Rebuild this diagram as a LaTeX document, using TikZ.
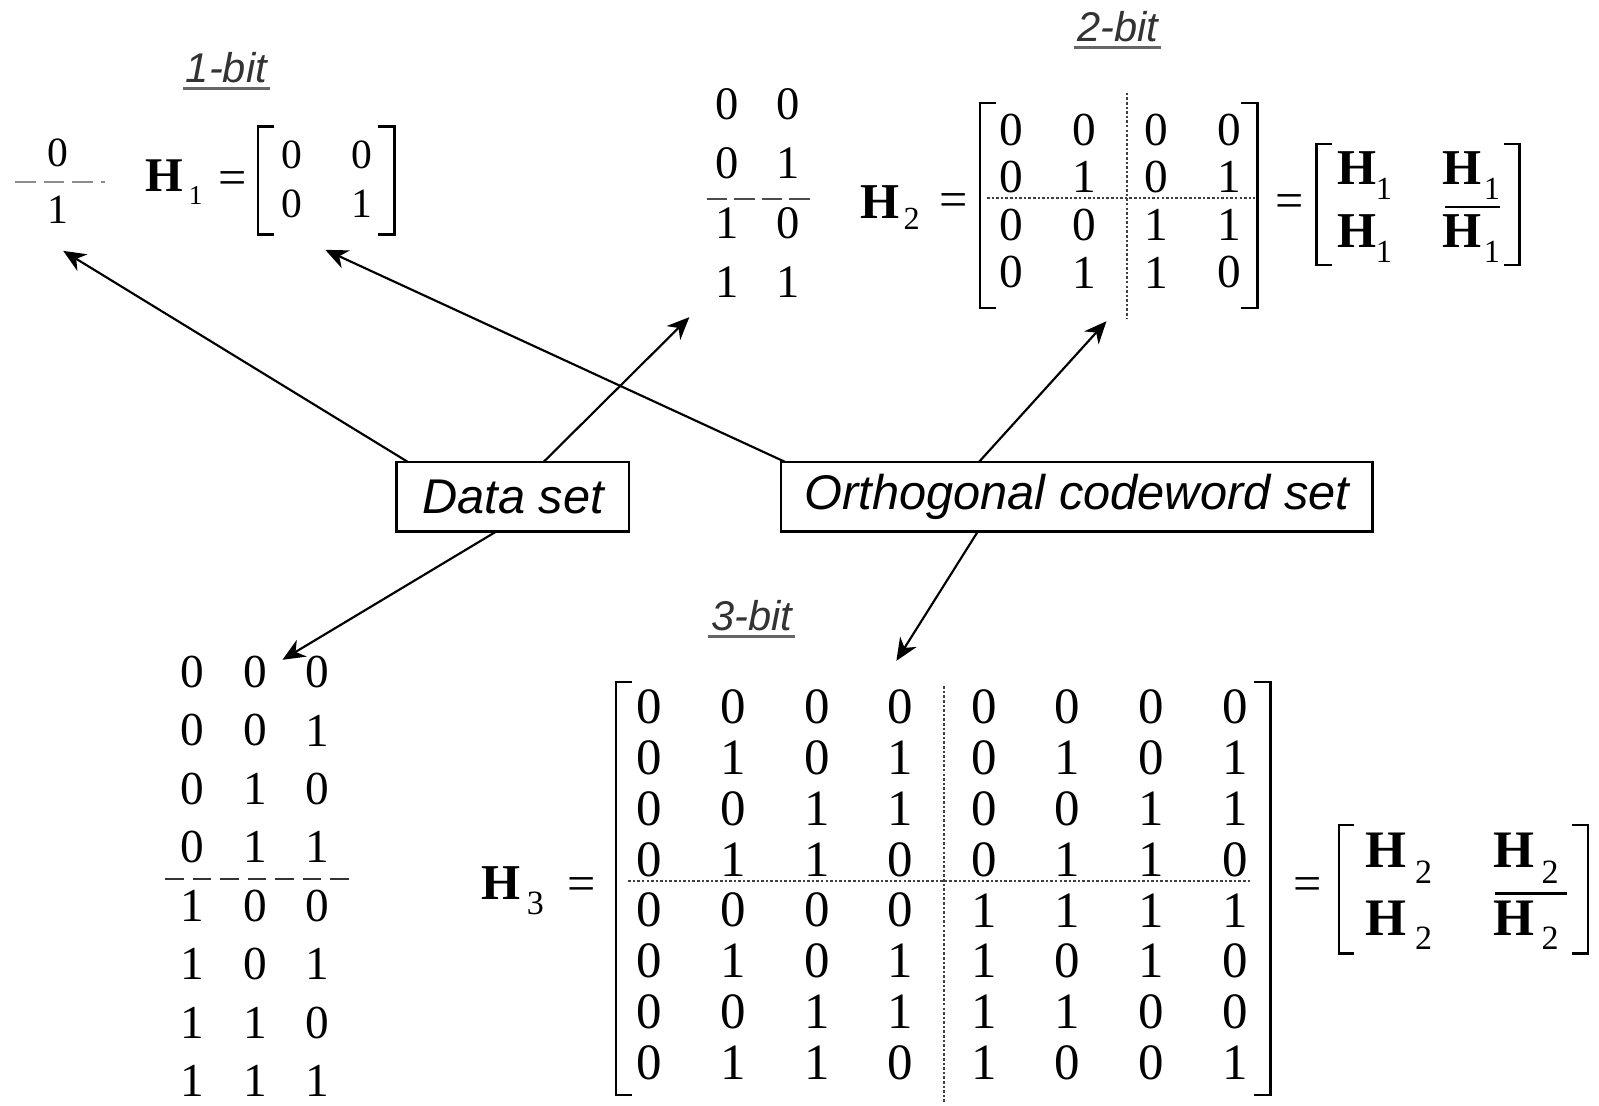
\documentclass[tikz,border=0pt]{standalone}
\usepackage{fontspec}
\setmainfont{Liberation Serif}
\newfontfamily\labelfont{Liberation Sans}
\usetikzlibrary{arrows.meta}

\tikzset{
  every node/.style={inner sep=0pt, outer sep=0pt},
  digs/.style={font=\fontsize{11.6}{12}\selectfont},
  digm/.style={font=\fontsize{13}{14}\selectfont},
  digl/.style={font=\fontsize{13.2}{14}\selectfont},
  digx/.style={font=\fontsize{14.2}{15}\selectfont},
  hboldS/.style={font=\bfseries\fontsize{13.5}{14}\selectfont},
  hboldM/.style={font=\bfseries\fontsize{14}{15}\selectfont},
  hboldL/.style={font=\bfseries\fontsize{14.7}{15}\selectfont},
  hsubS/.style={font=\fontsize{7.6}{8}\selectfont},
  hsubM/.style={font=\fontsize{9}{10}\selectfont},
  hsubL/.style={font=\fontsize{9.5}{10}\selectfont},
  eqsign/.style={font=\fontsize{14}{15}\selectfont},
  brk/.style={line width=0.7pt},
  halfsep/.style={line width=0.6pt, dash pattern=on 2mm off 0.8mm},
  blockdiv/.style={line width=0.55pt, black!75, dash pattern=on 0.25mm off 0.2mm},
  setbox/.style={draw, line width=0.7pt, minimum height=6.8mm,
    font=\labelfont\itshape\fontsize{13.6}{16}\selectfont},
  bitlabel/.style={anchor=base, text=black!80,
    font=\labelfont\itshape\fontsize{11.6}{14}\selectfont},
  uline/.style={line width=0.8pt, black!60},
  feed/.style={line width=0.6pt, -{Stealth[length=2.2mm,width=1.9mm,inset=0.7mm]}},
  compl/.style={line width=0.7pt}
}

% square brackets: left x, right x, top y, bottom y, serif length
\newcommand\mbrackets[5]{%
  \draw[brk] (#1+#5,#3) -- (#1,#3) -- (#1,#4) -- (#1+#5,#4);
  \draw[brk] (#2-#5,#3) -- (#2,#3) -- (#2,#4) -- (#2-#5,#4);
}

\begin{document}
\begin{tikzpicture}[x=0.1mm,y=-0.1mm]
\fill[white] (0,0) rectangle (1568,1084);
\useasboundingbox (0,0) rectangle (1568,1084);

% ================= 1-bit =================
\node[bitlabel] (lab1) at (222,81) {1-bit};
\draw[uline] ([xshift=-0.3mm,yshift=-0.6mm]lab1.base west) -- ([xshift=0.3mm,yshift=-0.6mm]lab1.base east);

\node[digs] (da1-1) at (57,150) {0};
\node[digs] (da1-2) at (57,206) {1};
\draw[halfsep, black!45] (15,178.5) -- (103,178.5);

\node[hboldS] (h1) at (161,172) {H};
\node[hsubS] (h1s) at (192,192) {1};
\node[eqsign] (h1eq) at (228,179) {=};
\mbrackets{253}{387}{124}{230}{16}
\foreach \r [count=\i] in {{0,0},{0,1}}
  \foreach \v [count=\j] in \r
    \node[digs] (ha-\i-\j) at ({286+69*(\j-1)},{152+48*(\i-1)}) {\v};

% ================= 2-bit =================
\node[bitlabel] (lab2) at (1096,41) {2-bit};
\draw[uline] ([xshift=-0.3mm,yshift=-0.6mm]lab2.base west) -- ([xshift=0.3mm,yshift=-0.6mm]lab2.base east);

\foreach \r [count=\i] in {{0,0},{0,1},{1,0},{1,1}}
  \foreach \v [count=\j] in \r
    \node[digm] (db-\i-\j) at ({713+60*(\j-1)},{102+58.3*(\i-1)}) {\v};
\draw[halfsep, black!70, dash pattern=on 2mm off 0.7mm] (693,195) -- (795,195);

\node[hboldM] (h2) at (863,198) {H};
\node[hsubM] (h2s) at (894,215) {2};
\node[eqsign] (h2eq) at (935,201) {=};
\mbrackets{961}{1233}{101}{302}{16}
\foreach \r [count=\i] in {{0,0,0,0},{0,1,0,1},{0,0,1,1},{0,1,1,0}}
  \foreach \v [count=\j] in \r
    \node[digl] (hb-\i-\j) at ({992+71*(\j-1)},{127+46.7*(\i-1)}) {\v};
\draw[blockdiv] (1105,91) -- (1105,312);
\draw[blockdiv] (968,194) -- (1231,194);

% H2 as blocks of H1
\node[eqsign] (h2eqb) at (1264.5,202) {=};
\mbrackets{1291}{1490}{141}{260}{15}
\node[hboldM] (hb11) at (1331,165) {H};
\node[hsubM] (hb11s) at (1357,185) {1};
\node[hboldM] (hb21) at (1331,227) {H};
\node[hsubM] (hb21s) at (1357,247) {1};
\node[hboldM] (hb12) at (1434,165) {H};
\node[hsubM] (hb12s) at (1463,185) {1};
\node[hboldM] (hb22) at (1434,227) {H};
\node[hsubM] (hb22s) at (1463,247) {1};
\draw[compl] (1417,203) -- (1471,203);

% ================= sets =================
\node[setbox, minimum width=22.8mm] (ds) at (503,487) {Data set};
\node[setbox, minimum width=58mm] (ocs) at (1056,487) {Orthogonal codeword set};

% ================= 3-bit =================
\node[bitlabel] (lab3) at (737,618) {3-bit};
\draw[uline] ([xshift=-0.3mm,yshift=-0.6mm]lab3.base west) -- ([xshift=0.3mm,yshift=-0.6mm]lab3.base east);

\foreach \r [count=\i] in {{0,0,0},{0,0,1},{0,1,0},{0,1,1},{1,0,0},{1,0,1},{1,1,0},{1,1,1}}
  \foreach \v [count=\j] in \r
    \node[digl] (dc-\i-\j) at ({189+61*(\j-1)},{659+57.3*(\i-1)}) {\v};
\draw[halfsep, black!80, dash pattern=on 1.8mm off 0.9mm] (162,862) -- (343,862);

\node[hboldM] (h3) at (491,866) {H};
\node[hsubL] (h3s) at (525,886) {3};
\node[eqsign] (h3eq) at (570,872) {=};
\mbrackets{604}{1246}{669}{1074}{16}
\foreach \r [count=\i] in {{0,0,0,0,0,0,0,0},{0,1,0,1,0,1,0,1},{0,0,1,1,0,0,1,1},{0,1,1,0,0,1,1,0},
                           {0,0,0,0,1,1,1,1},{0,1,0,1,1,0,1,0},{0,0,1,1,1,1,0,0},{0,1,1,0,1,0,0,1}}
  \foreach \v [count=\j] in \r
    \node[digx] (hc-\i-\j) at ({637+82*(\j-1)},{693+49.9*(\i-1)}) {\v};
\draw[blockdiv] (926,673) -- (926,1082);
\draw[blockdiv] (616,864) -- (1226,864);

% H3 as blocks of H2
\node[eqsign] (h3eqb) at (1282,872) {=};
\mbrackets{1313}{1557}{809}{935}{15}
\node[hboldL] (hc11) at (1359,834) {H};
\node[hsubL] (hc11s) at (1396,855) {2};
\node[hboldL] (hc21) at (1359,900) {H};
\node[hsubL] (hc21s) at (1396,920) {2};
\node[hboldL] (hc12) at (1485,834) {H};
\node[hsubL] (hc12s) at (1520,855) {2};
\node[hboldL] (hc22) at (1485,900) {H};
\node[hsubL] (hc22s) at (1520,920) {2};
\draw[compl] (1466,876) -- (1537,876);

% ================= connectors =================
\coordinate (t1) at (62,246);
\coordinate (t2) at (676,311);
\coordinate (t3) at (277,647);
\coordinate (t4) at (319,245);
\coordinate (t5) at (1085,315);
\coordinate (t6) at (879,648);

\draw[feed] ([xshift=1.1mm]ds.north west) -- (t1);
\draw[feed] ([xshift=14.4mm]ds.north west) -- (t2);
\draw[feed] ([xshift=9.8mm]ds.south west) -- (t3);
\draw[feed] ([xshift=0.4mm]ocs.north west) -- (t4);
\draw[feed] ([xshift=19.4mm]ocs.north west) -- (t5);
\draw[feed] ([xshift=19.3mm]ocs.south west) -- (t6);
\end{tikzpicture}
\end{document}
